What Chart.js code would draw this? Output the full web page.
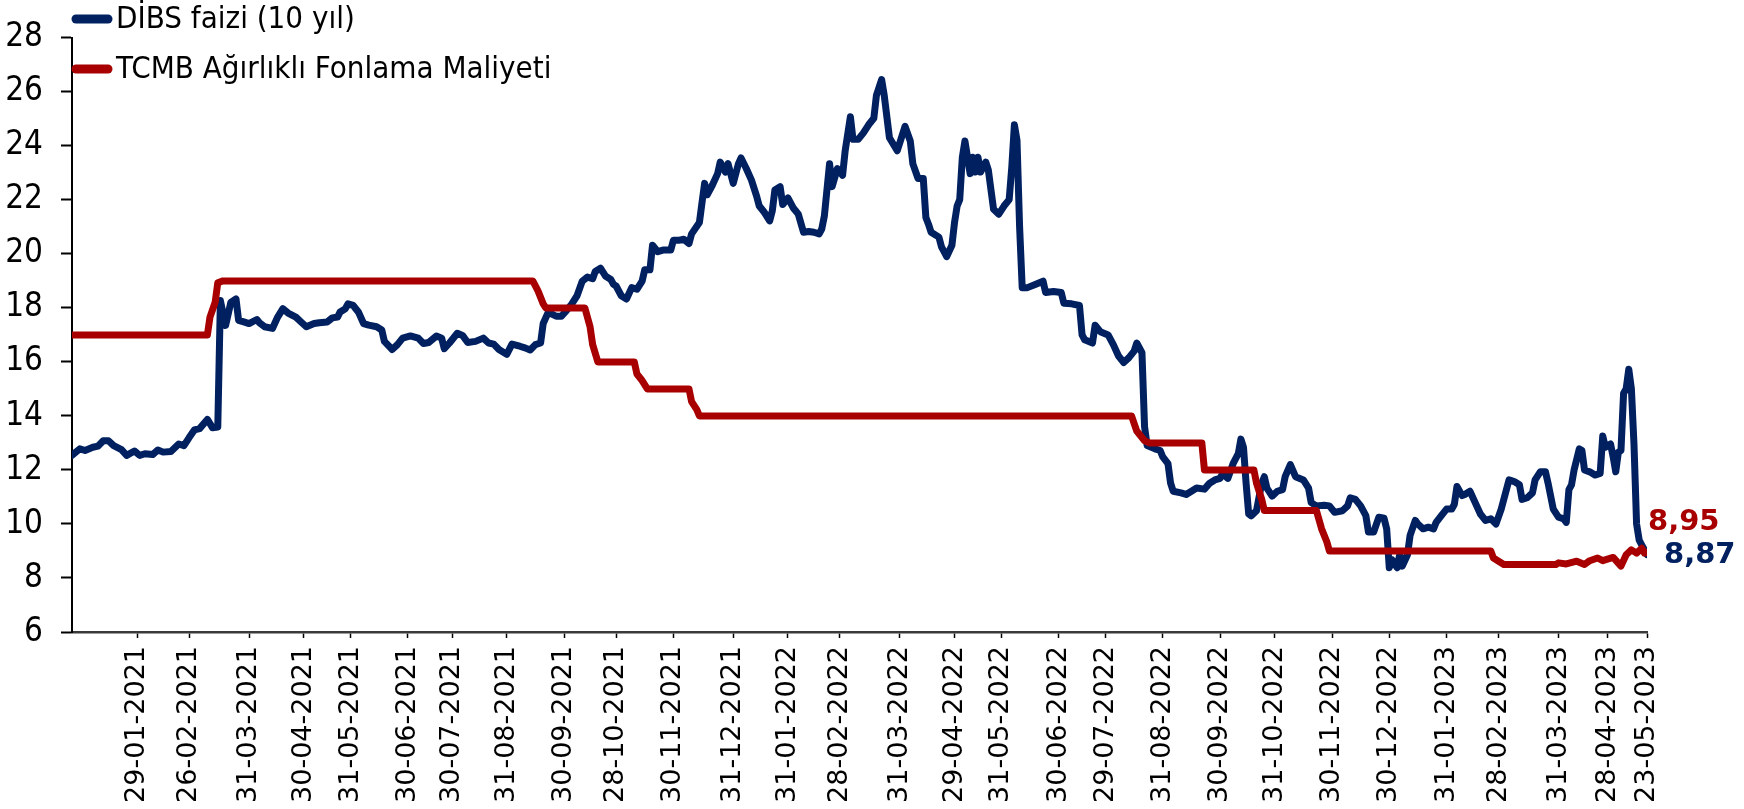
<!DOCTYPE html>
<html lang="tr">
<head>
<meta charset="utf-8">
<title>DİBS faizi ve TCMB fonlama maliyeti</title>
<script src="https://cdn.jsdelivr.net/npm/chart.js@4.4.0/dist/chart.umd.min.js"></script>
<style>
  html, body { margin: 0; padding: 0; background: #ffffff; }
  #kutu { width: 1744px; height: 809px; }
</style>
</head>
<body>
<div id="kutu"><canvas id="grafik" width="1744" height="809"></canvas></div>
<script>
// x ekseni: işlem günü sırası, 24-12-2020 = 0 (hafta sonları ve resmi tatiller hariç)
const ayEtiketleri = [
  "29-01-2021", "26-02-2021", "31-03-2021", "30-04-2021", "31-05-2021", "30-06-2021",
  "30-07-2021", "31-08-2021", "30-09-2021", "28-10-2021", "30-11-2021", "31-12-2021",
  "31-01-2022", "28-02-2022", "31-03-2022", "29-04-2022", "31-05-2022", "30-06-2022",
  "29-07-2022", "31-08-2022", "30-09-2022", "31-10-2022", "30-11-2022", "30-12-2022",
  "31-01-2023", "28-02-2023", "31-03-2023", "28-04-2023", "23-05-2023",
];
const ayGunleri = [
  25, 45, 68, 89, 107, 129, 146, 167, 189, 209, 231, 254,
  275, 295, 318, 339, 357, 379, 397, 419, 441, 462, 484, 506,
  528, 548, 571, 590, 605,
];
const sonGun = 605;

// DİBS 10 yıllık gösterge faizi, [işlem günü, %]
const dibs2021 = [
  [0, 12.54], [3, 12.78], [5, 12.72], [8, 12.84], [10, 12.88], [12, 13.08], [14, 13.08],
  [16, 12.9], [19, 12.75], [21, 12.54], [24, 12.7], [26, 12.54], [28, 12.6], [31, 12.57],
  [33, 12.74], [35, 12.66], [38, 12.68], [41, 12.96], [43, 12.9], [45, 13.2], [47, 13.48],
  [49, 13.53], [52, 13.87], [54, 13.56], [56, 13.59], [57, 18.27], [59, 17.35], [61, 18.2],
  [63, 18.33], [64, 17.54], [66, 17.48], [68, 17.42], [71, 17.57], [72, 17.45], [74, 17.3],
  [77, 17.24], [79, 17.66], [81, 17.97], [83, 17.81], [86, 17.66], [88, 17.48], [90, 17.3],
  [93, 17.42], [95, 17.45], [98, 17.48], [100, 17.63], [102, 17.66], [103, 17.85], [105, 17.97],
  [106, 18.15], [108, 18.09], [110, 17.85], [112, 17.42], [114, 17.36], [117, 17.3], [119, 17.18],
  [120, 16.76], [123, 16.46], [125, 16.64], [127, 16.88], [130, 16.96], [133, 16.88], [135, 16.68],
  [137, 16.72], [140, 16.96], [142, 16.88], [143, 16.49], [145, 16.7], [148, 17.06], [150, 16.98],
  [152, 16.72], [155, 16.76], [158, 16.88], [160, 16.7], [162, 16.66], [164, 16.46], [167, 16.28],
  [169, 16.66], [172, 16.58], [174, 16.52], [176, 16.44], [178, 16.64], [180, 16.7], [181, 17.42],
  [183, 17.85], [184, 17.79], [186, 17.69], [188, 17.69], [190, 17.91], [192, 18.15], [194, 18.45],
  [196, 18.99], [198, 19.14], [200, 19.08], [201, 19.35], [203, 19.47], [205, 19.17], [207, 19.05],
  [208, 18.87], [209, 18.81], [211, 18.45], [213, 18.33], [215, 18.75], [217, 18.69], [219, 18.99],
  [220, 19.41], [222, 19.41], [223, 20.32], [225, 20.08], [227, 20.14], [230, 20.14], [231, 20.5],
  [233, 20.5], [235, 20.54], [237, 20.38], [238, 20.74], [241, 21.16], [242, 21.89], [243, 22.61],
  [244, 22.19], [246, 22.55], [248, 22.97], [249, 23.4], [251, 23.03], [252, 23.34], [254, 22.61],
];
const dibs2022 = [
  [256, 23.34], [257, 23.55], [259, 23.16], [261, 22.73], [263, 22.13], [264, 21.77], [266, 21.53],
  [268, 21.22], [269, 21.59], [270, 22.37], [272, 22.49], [273, 21.83], [275, 22.07], [277, 21.71],
  [279, 21.47], [281, 20.8], [283, 20.83], [285, 20.8], [287, 20.74], [288, 20.92], [289, 21.4],
  [291, 23.34], [292, 22.49], [294, 23.16], [296, 22.91], [297, 23.82], [299, 25.08], [300, 24.24],
  [302, 24.24], [304, 24.48], [306, 24.78], [308, 25.02], [309, 25.87], [311, 26.45], [312, 25.87],
  [314, 24.3], [317, 23.82], [320, 24.72], [322, 24.18], [323, 23.33], [325, 22.79], [327, 22.79],
  [328, 21.35], [329, 21.1], [330, 20.8], [333, 20.62], [334, 20.26], [336, 19.9], [338, 20.32],
  [339, 21.16], [340, 21.77], [341, 22.01], [342, 23.58], [343, 24.18], [345, 22.97], [346, 23.58],
  [347, 23.03], [348, 23.58], [349, 23.03], [351, 23.4], [352, 23.1], [353, 22.37], [354, 21.65],
  [356, 21.47], [358, 21.77], [360, 22.01], [361, 23.22], [362, 24.78], [363, 24.2], [364, 21.0],
  [365, 18.75], [367, 18.75], [370, 18.87], [373, 18.99], [374, 18.57], [377, 18.61], [380, 18.57],
  [381, 18.17], [384, 18.15], [387, 18.09], [388, 17.0], [389, 16.82], [392, 16.7], [393, 17.36],
  [395, 17.12], [398, 17.0], [400, 16.64], [402, 16.22], [404, 15.98], [406, 16.16], [408, 16.4],
  [409, 16.7], [411, 16.34], [412, 13.6], [413, 12.9], [416, 12.78], [418, 12.72], [419, 12.48],
  [421, 12.23], [422, 11.51], [423, 11.21], [426, 11.15], [428, 11.09], [430, 11.21], [432, 11.33],
  [435, 11.29], [437, 11.51], [439, 11.63], [441, 11.69], [442, 11.87], [444, 11.69], [446, 12.23],
  [448, 12.6], [449, 13.14], [450, 12.84], [451, 11.51], [452, 10.37], [453, 10.3], [455, 10.49],
  [457, 11.51], [458, 11.75], [459, 11.33], [461, 11.03], [463, 11.21], [465, 11.27], [466, 11.75],
  [468, 12.2], [470, 11.75], [473, 11.63], [475, 11.33], [476, 10.79], [478, 10.67], [481, 10.69],
  [483, 10.67], [485, 10.43], [488, 10.49], [490, 10.67], [491, 10.97], [493, 10.91], [495, 10.67],
  [497, 10.31], [498, 9.7], [500, 9.7], [502, 10.25], [504, 10.21], [505, 9.82], [506, 8.38],
];
const dibs2023 = [
  [507, 8.68], [509, 8.38], [510, 8.86], [511, 8.44], [513, 8.86], [514, 9.58], [516, 10.13],
  [517, 10.0], [519, 9.82], [521, 9.88], [523, 9.82], [524, 10.06], [526, 10.31], [528, 10.55],
  [530, 10.55], [531, 10.73], [532, 11.39], [534, 11.05], [535, 11.09], [537, 11.21], [539, 10.79],
  [541, 10.37], [543, 10.13], [545, 10.19], [547, 10.0], [549, 10.55], [551, 11.27], [552, 11.63],
  [554, 11.57], [556, 11.45], [557, 10.91], [559, 10.97], [561, 11.15], [562, 11.63], [564, 11.93],
  [566, 11.93], [567, 11.51], [569, 10.55], [571, 10.25], [573, 10.19], [574, 10.06], [575, 11.27],
  [576, 11.45], [577, 12.0], [579, 12.78], [580, 12.72], [581, 12.0], [583, 11.93], [585, 11.81],
  [587, 11.87], [588, 13.26], [589, 12.84], [591, 12.96], [592, 12.48], [593, 11.93], [594, 12.66],
  [595, 12.72], [596, 14.83], [597, 15.01], [598, 15.73], [599, 15.01], [600, 12.96], [601, 10.0],
  [602, 9.4], [603, 9.22], [604, 9.04], [605, 8.87],
];

// TCMB ağırlıklı ortalama fonlama maliyeti, [işlem günü, %]
const tcmbFonlama = [
  [0, 17], [52, 17], [53, 17.66], [55, 18.21], [56, 18.93], [58, 19], [177, 19], [179, 18.63],
  [181, 18.15], [182, 18], [197, 18], [199, 17.3], [200, 16.64], [202, 16], [216, 16], [217, 15.55],
  [219, 15.31], [221, 15], [237, 15], [238, 14.53], [240, 14.23], [241, 14], [407, 14], [409, 13.44],
  [412, 13.08], [414, 13], [434, 13], [435, 12], [454, 12], [455, 11.51], [457, 10.91], [458, 10.5],
  [478, 10.5], [480, 9.82], [482, 9.34], [483, 9], [545, 9], [546, 8.74], [550, 8.5], [570, 8.5],
  [571, 8.56], [574, 8.52], [578, 8.62], [581, 8.5], [583, 8.64], [586, 8.74], [588, 8.64],
  [592, 8.76], [595, 8.44], [597, 8.86], [599, 9.04], [601, 8.92], [603, 9.1], [604, 8.92], [605, 8.95],
];

const LACIVERT = "#002060";
const BORDO = "#A80000";
const yaziTipi = '"DejaVu Sans", sans-serif';
const darYaziTipi = '"DejaVu Sans Condensed", "DejaVu Sans", sans-serif';

function noktalar(seri) {
  return seri.map(([gun, deger]) => ({ x: gun, y: deger }));
}

function virgullu(deger) {
  return deger.toFixed(2).replace(".", ",");
}

// sol üstte, çizim alanının içinde duran açıklama
const aciklamaEklentisi = {
  id: "aciklama",
  afterDraw(chart) {
    const { ctx, chartArea } = chart;
    ctx.save();
    chart.data.datasets.forEach((ds, i) => {
      const y = 19 + i * 50;
      ctx.strokeStyle = ds.borderColor;
      ctx.lineWidth = 9;
      ctx.lineCap = "round";
      ctx.beginPath();
      ctx.moveTo(chartArea.left + 4, y);
      ctx.lineTo(chartArea.left + 36, y);
      ctx.stroke();
      ctx.fillStyle = "#000000";
      ctx.font = "31px " + darYaziTipi;
      ctx.textAlign = "left";
      ctx.textBaseline = "middle";
      ctx.fillText(ds.label, chartArea.left + 44, y + 1);
    });
    ctx.restore();
  },
};

// serilerin son değerleri, çizginin sağ ucunda
const sonDegerEklentisi = {
  id: "sonDeger",
  afterDatasetsDraw(chart) {
    const ctx = chart.ctx;
    ctx.save();
    chart.data.datasets.forEach((ds, i) => {
      const meta = chart.getDatasetMeta(i);
      const son = meta.data[meta.data.length - 1];
      const deger = ds.data[ds.data.length - 1].y;
      ctx.font = "bold 29px " + yaziTipi;
      ctx.fillStyle = ds.borderColor;
      ctx.textAlign = "left";
      ctx.textBaseline = "middle";
      ctx.fillText(virgullu(deger), son.x + ds.etiketKayma[0], son.y + ds.etiketKayma[1]);
    });
    ctx.restore();
  },
};

const ctx = document.getElementById("grafik").getContext("2d");

new Chart(ctx, {
  type: "line",
  data: {
    datasets: [
      {
        label: "DİBS faizi (10 yıl)",
        data: noktalar([...dibs2021, ...dibs2022, ...dibs2023]),
        borderColor: LACIVERT,
        borderWidth: 7,
        etiketKayma: [17, 1],
        order: 1,
      },
      {
        label: "TCMB Ağırlıklı Fonlama Maliyeti",
        data: noktalar(tcmbFonlama),
        borderColor: BORDO,
        borderWidth: 7,
        etiketKayma: [1, -30],
        order: 0,
      },
    ],
  },
  options: {
    responsive: false,
    animation: false,
    devicePixelRatio: 1,
    layout: { padding: { top: 24, right: 97, left: 0, bottom: 0 } },
    elements: {
      point: { radius: 0, hoverRadius: 0 },
      line: { tension: 0, borderJoinStyle: "round", borderCapStyle: "round", fill: false },
    },
    plugins: {
      legend: { display: false },
      tooltip: { enabled: false },
    },
    scales: {
      x: {
        type: "linear",
        min: 0,
        max: sonGun,
        afterBuildTicks: (eksen) => {
          eksen.ticks = ayGunleri.map((g) => ({ value: g }));
        },
        afterFit: (eksen) => {
          eksen.height = 177;
        },
        ticks: {
          autoSkip: false,
          minRotation: 90,
          maxRotation: 90,
          padding: 8,
          color: "#000000",
          font: { family: yaziTipi, size: 27 },
          callback: (deger, i) => ayEtiketleri[i],
        },
        grid: {
          drawOnChartArea: false,
          drawTicks: true,
          tickLength: 6,
          tickColor: "#000000",
          tickWidth: 1.5,
        },
        border: { display: true, color: "#3a3a3a", width: 2.5 },
      },
      y: {
        min: 6,
        max: 28,
        afterFit: (eksen) => {
          eksen.width = 72;
        },
        ticks: {
          stepSize: 2,
          padding: 18,
          color: "#000000",
          font: { family: darYaziTipi, size: 33 },
        },
        grid: {
          drawOnChartArea: false,
          drawTicks: true,
          tickLength: 11,
          tickColor: "#000000",
          tickWidth: 2,
        },
        border: { display: true, color: "#000000", width: 2 },
      },
    },
  },
  plugins: [aciklamaEklentisi, sonDegerEklentisi],
});
</script>
</body>
</html>
